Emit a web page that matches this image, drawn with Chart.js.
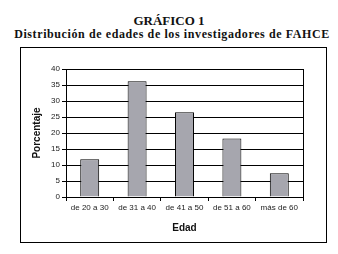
<!DOCTYPE html>
<html>
<head>
<meta charset="utf-8">
<script src="https://cdn.jsdelivr.net/npm/chart.js@4"></script>
<style>
  body { margin: 0; background: #fff; width: 338px; height: 254px; overflow: hidden; position: relative; }
  .t1 { position: absolute; left: 0; width: 338px; top: 13px; text-align: center;
        font: bold 13px "Liberation Serif", serif; color: #111; }
  .t2 { position: absolute; left: 0; width: 344px; top: 27px; text-align: center;
        font: bold 12px "Liberation Serif", serif; color: #111; letter-spacing: 0.6px; }
  #box { position: absolute; left: 20px; top: 47px; width: 305px; height: 194px; border: 1px solid #000; }
</style>
</head>
<body>
<div class="t1">GRÁFICO 1</div>
<div class="t2">Distribución de edades de los investigadores de FAHCE</div>
<div id="box"><canvas id="c" width="305" height="194"></canvas></div>
<script>
// age groups and share of researchers (%)
const edades = ['de 20 a 30', 'de 31 a 40', 'de 41 a 50', 'de 51 a 60', 'más de 60'];
const porcentaje = [11.8, 36.2, 26.5, 18.3, 7.4];
const yTicks = [0, 5, 10, 15, 20, 25, 30, 35, 40];

const tickFont = { family: 'Liberation Sans, Arial, sans-serif', size: 8 };
const titleFont = { family: 'Liberation Sans, Arial, sans-serif', size: 10, weight: 'bold' };

// plot area frame (Excel style border on all sides)
const frame = {
    id: 'frame',
    afterDraw(chart) {
        const a = chart.chartArea, ctx = chart.ctx;
        ctx.save();
        ctx.strokeStyle = '#000';
        ctx.lineWidth = 1;
        ctx.strokeRect(Math.round(a.left) + 0.5, Math.round(a.top) + 0.5,
            Math.round(a.right - a.left), Math.round(a.bottom - a.top));
        ctx.restore();
    }
};

new Chart(document.getElementById('c').getContext('2d'), {
    type: 'bar',
    data: {
        labels: edades,
        datasets: [{
            data: porcentaje,
            backgroundColor: '#a6a6ae',
            borderColor: '#000',
            borderWidth: 1,
            categoryPercentage: 0.8,
            barPercentage: 0.5
        }]
    },
    options: {
        responsive: false,
        animation: false,
        devicePixelRatio: 1,
        layout: { padding: { top: 21, right: 23, left: 0, bottom: 0 } },
        plugins: { legend: { display: false }, tooltip: { enabled: false } },
        scales: {
            x: {
                grid: { display: true, drawOnChartArea: false, offset: true, color: '#000', tickLength: 4 },
                border: { color: '#000' },
                ticks: { color: '#222', font: tickFont, maxRotation: 0, autoSkip: false, padding: 2 },
                title: { display: true, text: 'Edad', color: '#111', font: titleFont, padding: { top: 4, bottom: 8 } },
                afterFit(s) { s.height = 45; }
            },
            y: {
                min: 0, max: 40,
                afterBuildTicks(s) { s.ticks = yTicks.map(v => ({ value: v })); },
                grid: { color: '#000', tickLength: 4 },
                border: { color: '#000' },
                ticks: { color: '#222', font: tickFont, padding: 2 },
                title: { display: true, text: 'Porcentaje', color: '#111', font: titleFont, padding: { top: 10, bottom: 2 } },
                afterFit(s) { s.width = 45; }
            }
        }
    },
    plugins: [frame]
});
</script>
</body>
</html>
